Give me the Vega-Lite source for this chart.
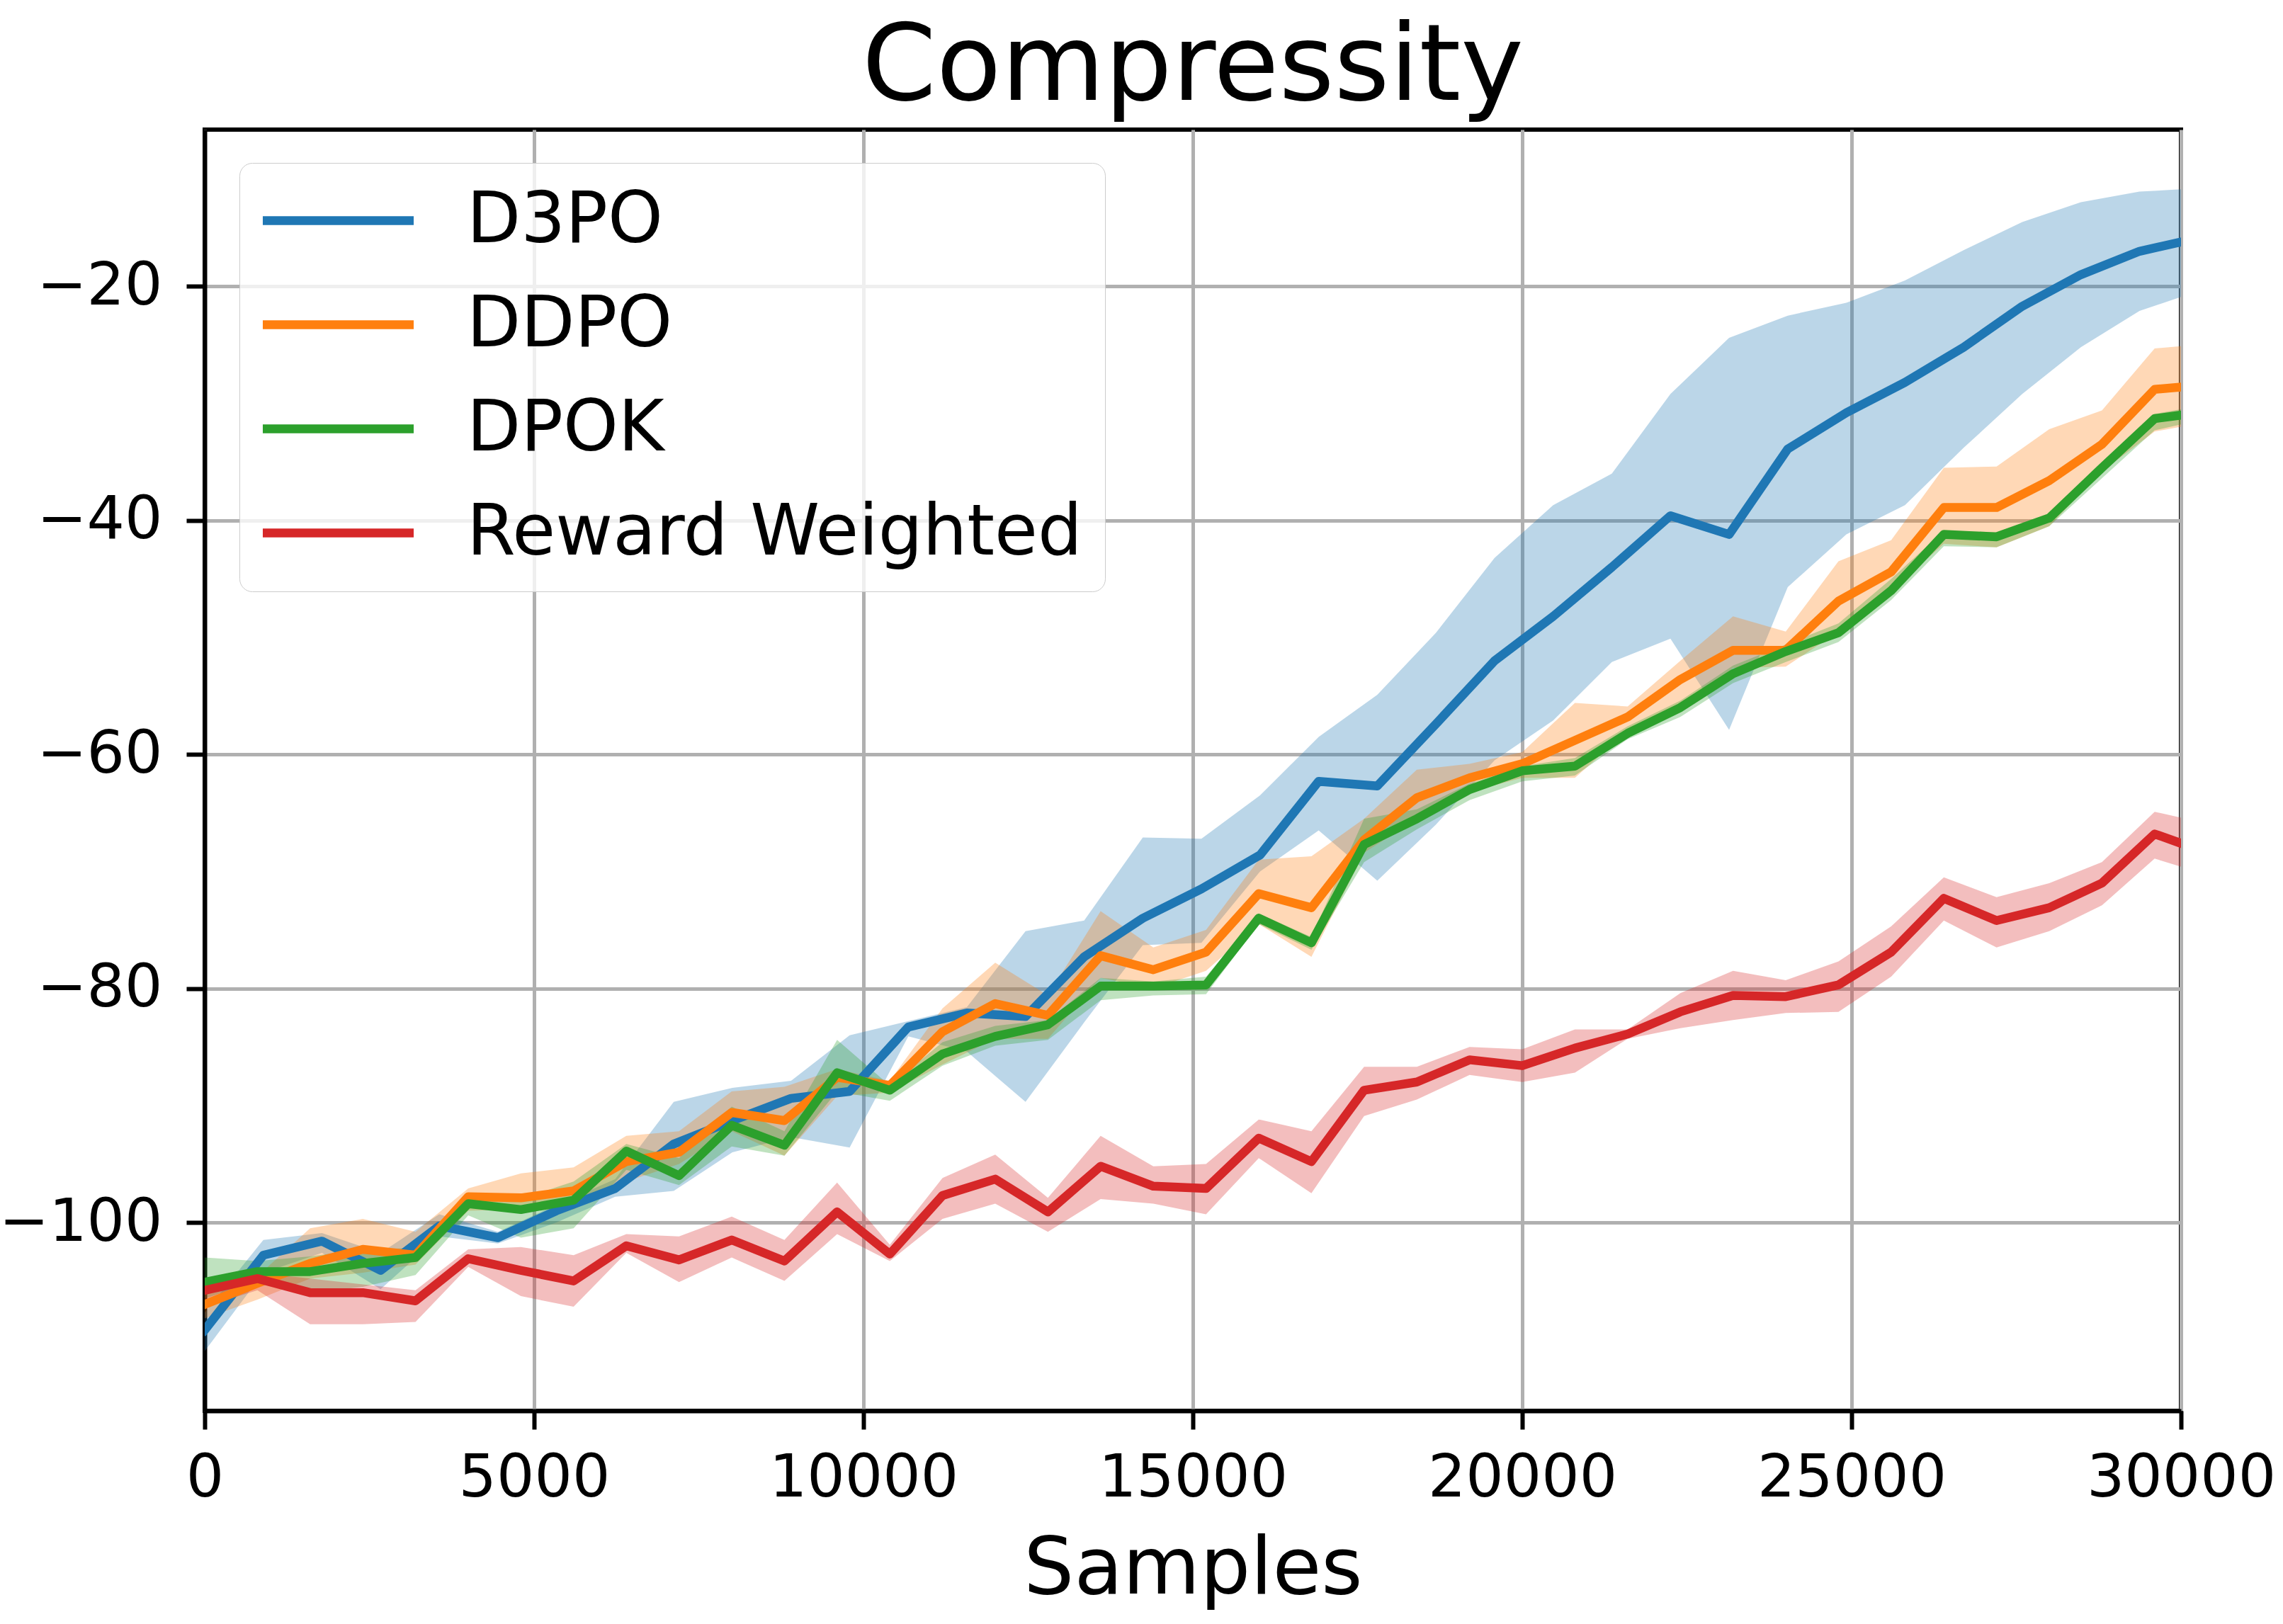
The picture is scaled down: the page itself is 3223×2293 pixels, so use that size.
{
  "$schema": "https://vega.github.io/schema/vega-lite/v6.json",
  "width": 2790,
  "height": 1809,
  "autosize": {"type": "none"},
  "padding": {"left": 289, "top": 183, "right": 144, "bottom": 301},
  "background": "white",
  "config": {
    "font": "DejaVu Sans",
    "view": {"stroke": "black", "strokeWidth": 6}
  },
  "title": {"text": "Compressity", "fontSize": 150, "font": "DejaVu Sans", "fontWeight": "normal", "anchor": "middle", "frame": "group", "baseline": "alphabetic", "offset": -108, "color": "black"},
  "datasets": {
    "runs": [
      {"method": "D3PO", "samples": 0, "mean": -109.2, "lower": -111.0, "upper": -107.7},
      {"method": "D3PO", "samples": 890, "mean": -102.8, "lower": -104.3, "upper": -101.5},
      {"method": "D3PO", "samples": 1780, "mean": -101.6, "lower": -102.6, "upper": -100.9},
      {"method": "D3PO", "samples": 2670, "mean": -104.1, "lower": -105.7, "upper": -102.6},
      {"method": "D3PO", "samples": 3560, "mean": -100.3, "lower": -101.2, "upper": -99.3},
      {"method": "D3PO", "samples": 4450, "mean": -101.3, "lower": -101.8, "upper": -100.8},
      {"method": "D3PO", "samples": 5340, "mean": -99.0, "lower": -100.0, "upper": -98.5},
      {"method": "D3PO", "samples": 6230, "mean": -97.1, "lower": -97.8, "upper": -96.3},
      {"method": "D3PO", "samples": 7120, "mean": -93.3, "lower": -97.3, "upper": -89.7},
      {"method": "D3PO", "samples": 8010, "mean": -91.3, "lower": -94.0, "upper": -88.5},
      {"method": "D3PO", "samples": 8900, "mean": -89.4, "lower": -92.7, "upper": -87.9},
      {"method": "D3PO", "samples": 9790, "mean": -88.8, "lower": -93.6, "upper": -84.0},
      {"method": "D3PO", "samples": 10680, "mean": -83.3, "lower": -84.1, "upper": -82.8},
      {"method": "D3PO", "samples": 11570, "mean": -82.1, "lower": -85.4, "upper": -81.6},
      {"method": "D3PO", "samples": 12460, "mean": -82.4, "lower": -89.7, "upper": -75.1},
      {"method": "D3PO", "samples": 13350, "mean": -77.3, "lower": -82.9, "upper": -74.2},
      {"method": "D3PO", "samples": 14240, "mean": -74.0, "lower": -76.3, "upper": -67.1},
      {"method": "D3PO", "samples": 15130, "mean": -71.5, "lower": -76.1, "upper": -67.2},
      {"method": "D3PO", "samples": 16020, "mean": -68.6, "lower": -70.0, "upper": -63.5},
      {"method": "D3PO", "samples": 16910, "mean": -62.3, "lower": -66.5, "upper": -58.5},
      {"method": "D3PO", "samples": 17800, "mean": -62.7, "lower": -70.8, "upper": -54.9},
      {"method": "D3PO", "samples": 18690, "mean": -57.4, "lower": -66.0, "upper": -49.6},
      {"method": "D3PO", "samples": 19580, "mean": -52.0, "lower": -60.5, "upper": -43.2},
      {"method": "D3PO", "samples": 20470, "mean": -48.2, "lower": -57.1, "upper": -38.7},
      {"method": "D3PO", "samples": 21360, "mean": -44.0, "lower": -52.1, "upper": -36.0},
      {"method": "D3PO", "samples": 22250, "mean": -39.6, "lower": -50.1, "upper": -29.2},
      {"method": "D3PO", "samples": 23140, "mean": -41.2, "lower": -57.9, "upper": -24.4},
      {"method": "D3PO", "samples": 24030, "mean": -33.9, "lower": -45.7, "upper": -22.5},
      {"method": "D3PO", "samples": 24920, "mean": -30.8, "lower": -41.2, "upper": -21.4},
      {"method": "D3PO", "samples": 25810, "mean": -28.2, "lower": -38.7, "upper": -19.5},
      {"method": "D3PO", "samples": 26700, "mean": -25.2, "lower": -33.8, "upper": -16.9},
      {"method": "D3PO", "samples": 27590, "mean": -21.7, "lower": -29.2, "upper": -14.5},
      {"method": "D3PO", "samples": 28480, "mean": -19.0, "lower": -25.2, "upper": -12.8},
      {"method": "D3PO", "samples": 29370, "mean": -17.0, "lower": -22.1, "upper": -11.9},
      {"method": "D3PO", "samples": 30000, "mean": -16.2, "lower": -20.9, "upper": -11.7},

      {"method": "DDPO", "samples": 0, "mean": -107.0, "lower": -108.2, "upper": -106.0},
      {"method": "DDPO", "samples": 800, "mean": -105.2, "lower": -106.6, "upper": -104.6},
      {"method": "DDPO", "samples": 1600, "mean": -103.5, "lower": -104.8, "upper": -100.5},
      {"method": "DDPO", "samples": 2400, "mean": -102.3, "lower": -104.3, "upper": -99.7},
      {"method": "DDPO", "samples": 3200, "mean": -102.8, "lower": -103.6, "upper": -100.8},
      {"method": "DDPO", "samples": 4000, "mean": -97.8, "lower": -99.0, "upper": -97.1},
      {"method": "DDPO", "samples": 4800, "mean": -97.9, "lower": -98.9, "upper": -95.8},
      {"method": "DDPO", "samples": 5600, "mean": -97.3, "lower": -98.9, "upper": -95.3},
      {"method": "DDPO", "samples": 6400, "mean": -94.8, "lower": -96.5, "upper": -92.6},
      {"method": "DDPO", "samples": 7200, "mean": -94.0, "lower": -95.0, "upper": -92.2},
      {"method": "DDPO", "samples": 8000, "mean": -90.6, "lower": -92.2, "upper": -88.8},
      {"method": "DDPO", "samples": 8800, "mean": -91.3, "lower": -94.3, "upper": -88.4},
      {"method": "DDPO", "samples": 9600, "mean": -87.6, "lower": -89.2, "upper": -86.9},
      {"method": "DDPO", "samples": 10400, "mean": -88.3, "lower": -88.9, "upper": -87.9},
      {"method": "DDPO", "samples": 11200, "mean": -83.7, "lower": -86.5, "upper": -81.7},
      {"method": "DDPO", "samples": 12000, "mean": -81.3, "lower": -84.3, "upper": -77.8},
      {"method": "DDPO", "samples": 12800, "mean": -82.3, "lower": -84.3, "upper": -80.6},
      {"method": "DDPO", "samples": 13600, "mean": -77.2, "lower": -79.1, "upper": -73.4},
      {"method": "DDPO", "samples": 14400, "mean": -78.4, "lower": -80.0, "upper": -76.5},
      {"method": "DDPO", "samples": 15200, "mean": -76.9, "lower": -78.5, "upper": -75.0},
      {"method": "DDPO", "samples": 16000, "mean": -71.9, "lower": -74.5, "upper": -69.0},
      {"method": "DDPO", "samples": 16800, "mean": -73.1, "lower": -77.3, "upper": -68.7},
      {"method": "DDPO", "samples": 17600, "mean": -67.3, "lower": -68.4, "upper": -65.5},
      {"method": "DDPO", "samples": 18400, "mean": -63.7, "lower": -65.5, "upper": -61.3},
      {"method": "DDPO", "samples": 19200, "mean": -62.0, "lower": -63.2, "upper": -60.8},
      {"method": "DDPO", "samples": 20000, "mean": -60.8, "lower": -62.0, "upper": -59.8},
      {"method": "DDPO", "samples": 20800, "mean": -58.8, "lower": -62.0, "upper": -55.6},
      {"method": "DDPO", "samples": 21600, "mean": -56.8, "lower": -58.0, "upper": -55.9},
      {"method": "DDPO", "samples": 22400, "mean": -53.6, "lower": -56.4, "upper": -52.0},
      {"method": "DDPO", "samples": 23200, "mean": -51.1, "lower": -52.6, "upper": -48.2},
      {"method": "DDPO", "samples": 24000, "mean": -51.1, "lower": -52.5, "upper": -49.5},
      {"method": "DDPO", "samples": 24800, "mean": -46.9, "lower": -49.5, "upper": -43.5},
      {"method": "DDPO", "samples": 25600, "mean": -44.4, "lower": -46.0, "upper": -41.7},
      {"method": "DDPO", "samples": 26400, "mean": -38.9, "lower": -42.0, "upper": -35.5},
      {"method": "DDPO", "samples": 27200, "mean": -38.9, "lower": -42.3, "upper": -35.4},
      {"method": "DDPO", "samples": 28000, "mean": -36.6, "lower": -40.5, "upper": -32.2},
      {"method": "DDPO", "samples": 28800, "mean": -33.5, "lower": -35.8, "upper": -30.6},
      {"method": "DDPO", "samples": 29600, "mean": -28.8, "lower": -32.4, "upper": -25.3},
      {"method": "DDPO", "samples": 30000, "mean": -28.6, "lower": -32.0, "upper": -25.1},

      {"method": "DPOK", "samples": 0, "mean": -105.1, "lower": -106.5, "upper": -103.0},
      {"method": "DPOK", "samples": 800, "mean": -104.2, "lower": -105.0, "upper": -103.3},
      {"method": "DPOK", "samples": 1600, "mean": -104.2, "lower": -106.0, "upper": -102.9},
      {"method": "DPOK", "samples": 2400, "mean": -103.5, "lower": -105.5, "upper": -102.3},
      {"method": "DPOK", "samples": 3200, "mean": -103.0, "lower": -104.5, "upper": -102.2},
      {"method": "DPOK", "samples": 4000, "mean": -98.4, "lower": -99.4, "upper": -97.5},
      {"method": "DPOK", "samples": 4800, "mean": -98.9, "lower": -101.3, "upper": -98.0},
      {"method": "DPOK", "samples": 5600, "mean": -98.1, "lower": -100.5, "upper": -96.5},
      {"method": "DPOK", "samples": 6400, "mean": -93.9, "lower": -95.5, "upper": -93.3},
      {"method": "DPOK", "samples": 7200, "mean": -96.0, "lower": -96.8, "upper": -94.5},
      {"method": "DPOK", "samples": 8000, "mean": -91.7, "lower": -93.5, "upper": -90.1},
      {"method": "DPOK", "samples": 8800, "mean": -93.4, "lower": -94.3, "upper": -92.2},
      {"method": "DPOK", "samples": 9600, "mean": -87.2, "lower": -88.8, "upper": -84.4},
      {"method": "DPOK", "samples": 10400, "mean": -88.7, "lower": -89.6, "upper": -88.3},
      {"method": "DPOK", "samples": 11200, "mean": -85.6, "lower": -86.6, "upper": -84.6},
      {"method": "DPOK", "samples": 12000, "mean": -84.1, "lower": -84.9, "upper": -83.2},
      {"method": "DPOK", "samples": 12800, "mean": -83.1, "lower": -84.4, "upper": -82.7},
      {"method": "DPOK", "samples": 13600, "mean": -79.8, "lower": -81.0, "upper": -79.1},
      {"method": "DPOK", "samples": 14400, "mean": -79.8, "lower": -80.6, "upper": -79.4},
      {"method": "DPOK", "samples": 15200, "mean": -79.7, "lower": -80.5, "upper": -79.0},
      {"method": "DPOK", "samples": 16000, "mean": -74.0, "lower": -74.5, "upper": -73.6},
      {"method": "DPOK", "samples": 16800, "mean": -76.1, "lower": -76.7, "upper": -75.6},
      {"method": "DPOK", "samples": 17600, "mean": -67.7, "lower": -69.2, "upper": -65.5},
      {"method": "DPOK", "samples": 18400, "mean": -65.5, "lower": -66.4, "upper": -64.7},
      {"method": "DPOK", "samples": 19200, "mean": -63.0, "lower": -63.9, "upper": -62.5},
      {"method": "DPOK", "samples": 20000, "mean": -61.4, "lower": -62.3, "upper": -61.0},
      {"method": "DPOK", "samples": 20800, "mean": -61.0, "lower": -61.8, "upper": -60.3},
      {"method": "DPOK", "samples": 21600, "mean": -58.2, "lower": -58.7, "upper": -57.6},
      {"method": "DPOK", "samples": 22400, "mean": -56.0, "lower": -56.8, "upper": -55.4},
      {"method": "DPOK", "samples": 23200, "mean": -53.1, "lower": -53.9, "upper": -52.4},
      {"method": "DPOK", "samples": 24000, "mean": -51.2, "lower": -52.1, "upper": -50.6},
      {"method": "DPOK", "samples": 24800, "mean": -49.6, "lower": -50.4, "upper": -48.8},
      {"method": "DPOK", "samples": 25600, "mean": -46.0, "lower": -46.8, "upper": -45.0},
      {"method": "DPOK", "samples": 26400, "mean": -41.2, "lower": -42.2, "upper": -40.9},
      {"method": "DPOK", "samples": 27200, "mean": -41.4, "lower": -42.3, "upper": -41.0},
      {"method": "DPOK", "samples": 28000, "mean": -39.8, "lower": -40.5, "upper": -39.4},
      {"method": "DPOK", "samples": 28800, "mean": -35.5, "lower": -36.4, "upper": -35.0},
      {"method": "DPOK", "samples": 29600, "mean": -31.3, "lower": -32.3, "upper": -30.9},
      {"method": "DPOK", "samples": 30000, "mean": -31.0, "lower": -31.8, "upper": -30.5},

      {"method": "Reward Weighted", "samples": 0, "mean": -105.8, "lower": -107.2, "upper": -104.8},
      {"method": "Reward Weighted", "samples": 800, "mean": -104.8, "lower": -105.8, "upper": -104.3},
      {"method": "Reward Weighted", "samples": 1600, "mean": -106.0, "lower": -108.7, "upper": -104.8},
      {"method": "Reward Weighted", "samples": 2400, "mean": -106.0, "lower": -108.7, "upper": -105.3},
      {"method": "Reward Weighted", "samples": 3200, "mean": -106.7, "lower": -108.5, "upper": -105.8},
      {"method": "Reward Weighted", "samples": 4000, "mean": -103.1, "lower": -103.8, "upper": -102.3},
      {"method": "Reward Weighted", "samples": 4800, "mean": -104.1, "lower": -106.3, "upper": -102.1},
      {"method": "Reward Weighted", "samples": 5600, "mean": -105.0, "lower": -107.2, "upper": -102.8},
      {"method": "Reward Weighted", "samples": 6400, "mean": -102.0, "lower": -102.6, "upper": -101.0},
      {"method": "Reward Weighted", "samples": 7200, "mean": -103.2, "lower": -105.1, "upper": -101.2},
      {"method": "Reward Weighted", "samples": 8000, "mean": -101.5, "lower": -103.0, "upper": -99.5},
      {"method": "Reward Weighted", "samples": 8800, "mean": -103.3, "lower": -105.0, "upper": -101.5},
      {"method": "Reward Weighted", "samples": 9600, "mean": -99.1, "lower": -101.0, "upper": -96.6},
      {"method": "Reward Weighted", "samples": 10400, "mean": -102.7, "lower": -103.3, "upper": -101.9},
      {"method": "Reward Weighted", "samples": 11200, "mean": -97.7, "lower": -99.7, "upper": -96.2},
      {"method": "Reward Weighted", "samples": 12000, "mean": -96.3, "lower": -98.4, "upper": -94.2},
      {"method": "Reward Weighted", "samples": 12800, "mean": -99.1, "lower": -100.8, "upper": -97.9},
      {"method": "Reward Weighted", "samples": 13600, "mean": -95.2, "lower": -98.0, "upper": -92.6},
      {"method": "Reward Weighted", "samples": 14400, "mean": -96.9, "lower": -98.4, "upper": -95.2},
      {"method": "Reward Weighted", "samples": 15200, "mean": -97.1, "lower": -99.3, "upper": -95.0},
      {"method": "Reward Weighted", "samples": 16000, "mean": -92.8, "lower": -94.5, "upper": -91.2},
      {"method": "Reward Weighted", "samples": 16800, "mean": -94.8, "lower": -97.5, "upper": -92.2},
      {"method": "Reward Weighted", "samples": 17600, "mean": -88.7, "lower": -90.9, "upper": -86.7},
      {"method": "Reward Weighted", "samples": 18400, "mean": -88.0, "lower": -89.5, "upper": -86.7},
      {"method": "Reward Weighted", "samples": 19200, "mean": -86.1, "lower": -87.4, "upper": -85.0},
      {"method": "Reward Weighted", "samples": 20000, "mean": -86.6, "lower": -88.0, "upper": -85.2},
      {"method": "Reward Weighted", "samples": 20800, "mean": -85.1, "lower": -87.2, "upper": -83.5},
      {"method": "Reward Weighted", "samples": 21600, "mean": -83.9, "lower": -84.3, "upper": -83.5},
      {"method": "Reward Weighted", "samples": 22400, "mean": -82.0, "lower": -83.4, "upper": -80.4},
      {"method": "Reward Weighted", "samples": 23200, "mean": -80.6, "lower": -82.7, "upper": -78.5},
      {"method": "Reward Weighted", "samples": 24000, "mean": -80.7, "lower": -82.1, "upper": -79.3},
      {"method": "Reward Weighted", "samples": 24800, "mean": -79.7, "lower": -82.0, "upper": -77.7},
      {"method": "Reward Weighted", "samples": 25600, "mean": -76.9, "lower": -79.0, "upper": -74.7},
      {"method": "Reward Weighted", "samples": 26400, "mean": -72.3, "lower": -74.2, "upper": -70.5},
      {"method": "Reward Weighted", "samples": 27200, "mean": -74.2, "lower": -76.5, "upper": -72.2},
      {"method": "Reward Weighted", "samples": 28000, "mean": -73.1, "lower": -75.1, "upper": -71.0},
      {"method": "Reward Weighted", "samples": 28800, "mean": -71.0, "lower": -72.9, "upper": -69.2},
      {"method": "Reward Weighted", "samples": 29600, "mean": -66.8, "lower": -68.9, "upper": -64.9},
      {"method": "Reward Weighted", "samples": 30000, "mean": -67.6, "lower": -69.6, "upper": -65.4}
    ]
  },
  "data": {"name": "runs"},
  "layer": [
    {
      "mark": {"type": "area", "fillOpacity": 0.3, "clip": true, "strokeWidth": 0},
      "encoding": {
        "x": {
          "field": "samples", "type": "quantitative",
          "scale": {"domain": [0, 30000], "nice": false, "zero": false},
          "axis": {
            "title": "Samples", "values": [0, 5000, 10000, 15000, 20000, 25000, 30000], "format": "d",
            "labelFontSize": 84, "labelColor": "black", "labelPadding": 28, "labelFlush": false, "labelOverlap": false, "labelLimit": 1000,
            "tickSize": 26, "tickWidth": 6, "tickColor": "black",
            "domainColor": "black", "domainWidth": 6,
            "grid": true, "gridColor": "#b0b0b0", "gridWidth": 5,
            "titleFontSize": 112, "titleFontWeight": "normal", "titleColor": "black",
            "titleBaseline": "alphabetic", "titleY": 257
          }
        },
        "y": {
          "field": "lower", "type": "quantitative",
          "scale": {"domain": [-116.1, -6.6], "nice": false, "zero": false},
          "axis": {
            "title": null, "values": [-100, -80, -60, -40, -20], "format": "d",
            "labelFontSize": 84, "labelColor": "black", "labelPadding": 34, "labelFlush": false, "labelOverlap": false, "labelLimit": 1000,
            "tickSize": 26, "tickWidth": 6, "tickColor": "black",
            "domainColor": "black", "domainWidth": 6,
            "grid": true, "gridColor": "#b0b0b0", "gridWidth": 5
          }
        },
        "y2": {"field": "upper"},
        "fill": {
          "field": "method", "type": "nominal",
          "scale": {"range": ["#1f77b4", "#ff7f0e", "#2ca02c", "#d62728"]},
          "legend": null
        }
      }
    },
    {
      "mark": {"type": "line", "strokeWidth": 12.5, "clip": true, "strokeJoin": "round", "strokeCap": "square"},
      "encoding": {
        "x": {"field": "samples", "type": "quantitative"},
        "y": {"field": "mean", "type": "quantitative"},
        "color": {
          "field": "method", "type": "nominal",
          "scale": {"domain": ["D3PO", "DDPO", "DPOK", "Reward Weighted"], "range": ["#1f77b4", "#ff7f0e", "#2ca02c", "#d62728"]},
          "legend": {
            "title": null, "orient": "none", "legendX": 49, "legendY": 47, "direction": "vertical",
            "symbolType": "M-2.477,0H2.477", "symbolSize": 7396, "symbolStrokeWidth": 12.5, "symbolOffset": 58,
            "labelFontSize": 99, "labelColor": "black", "labelOffset": 132, "labelLimit": 3000,
            "padding": 32, "rowPadding": 47,
            "fillColor": "rgba(255,255,255,0.8)", "strokeColor": "#cccccc", "cornerRadius": 18
          }
        }
      }
    }
  ]
}
